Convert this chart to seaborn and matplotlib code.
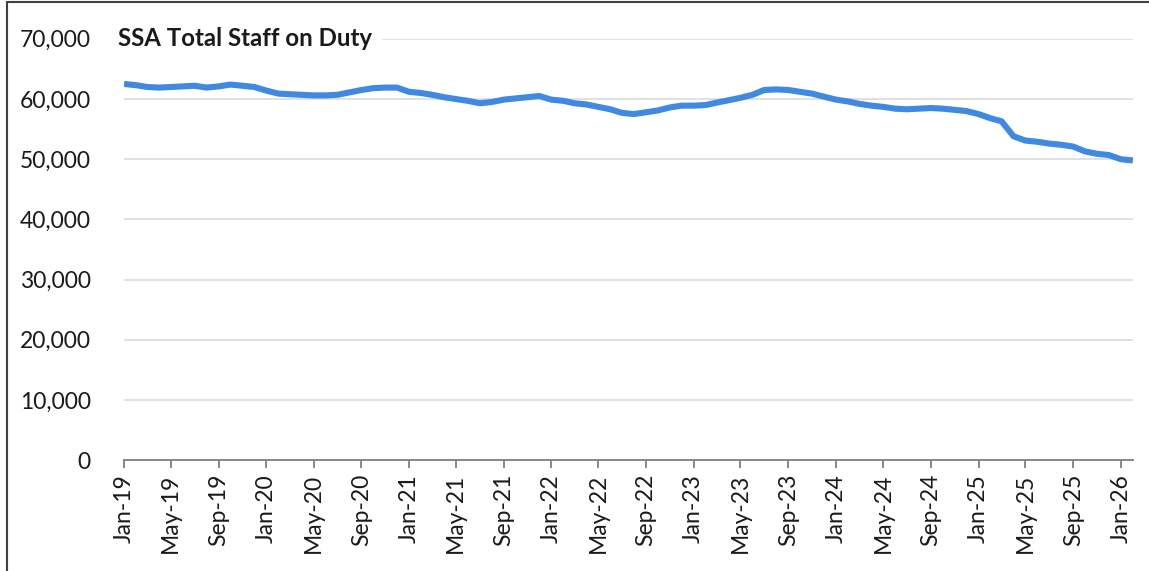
import pandas as pd
import seaborn as sns
import matplotlib.pyplot as plt
import matplotlib.dates as mdates
import matplotlib.ticker as mtick
from matplotlib.lines import Line2D

# monthly staff on duty, Jan-19 .. Feb-26
months = pd.date_range('2019-01-01', '2026-02-01', freq='MS')
staff = [62500, 62300, 62000, 61900, 62000, 62100, 62200, 61900, 62100, 62400, 62200, 62000,
         61400, 60900, 60800, 60700, 60600, 60600, 60700, 61100, 61500, 61800, 61900, 61900,
         61200, 61000, 60700, 60300, 60000, 59700, 59300, 59500, 59900, 60100, 60300, 60500,
         59900, 59700, 59300, 59100, 58700, 58300, 57700, 57500, 57800, 58100, 58600, 58900,
         58900, 59000, 59400, 59800, 60200, 60700, 61500, 61600, 61500, 61200, 60900, 60400,
         59900, 59600, 59200, 58900, 58700, 58400, 58300, 58400, 58500, 58400, 58200, 58000,
         57500, 56800, 56300, 53800, 53100, 52900, 52600, 52400, 52100, 51300, 50900, 50700,
         50000, 49800]
title = 'SSA Total Staff on Duty'

df = pd.DataFrame({'month': months, 'staff': staff})

sns.set_style('white')
plt.rcParams['font.family'] = ['Lato', 'DejaVu Sans']

fig = plt.figure(figsize=(11.49, 5.71), dpi=100)
ax = fig.add_axes([0.108, 0.194, 0.878, 0.738])

sns.lineplot(data=df, x='month', y='staff', ax=ax, color='#3f8ae0',
             linewidth=4.4, solid_capstyle='butt')

ax.set_ylim(0, 70000)
ax.set_xlim(months[0], months[-1])
ax.yaxis.set_major_locator(mtick.MultipleLocator(10000))
ax.yaxis.set_major_formatter(mtick.StrMethodFormatter('{x:,.0f}'))
ax.xaxis.set_major_locator(mdates.MonthLocator(bymonth=[1, 5, 9]))
ax.xaxis.set_major_formatter(mdates.DateFormatter('%b-%y'))

ax.grid(axis='y', color='#d9d9d9', linewidth=1.1)
ax.set_axisbelow(True)
for s in ['left', 'right', 'top']:
    ax.spines[s].set_visible(False)
ax.spines['bottom'].set_color('#7f7f7f')
ax.spines['bottom'].set_linewidth(1.3)

ax.tick_params(axis='y', length=0, pad=24, labelsize=16.5, labelcolor='#1a1a1a')
ax.tick_params(axis='x', direction='out', length=6, width=1.3, color='#7f7f7f',
               labelsize=16.5, labelrotation=90, pad=4, bottom=True, labelcolor='#1a1a1a')
ax.set_xlabel('')
ax.set_ylabel('')

ax.text(-0.006, 1.0, title, transform=ax.transAxes, ha='left', va='center',
        fontsize=17.3, fontweight='bold', color='#1a1a1a',
        bbox=dict(facecolor='white', edgecolor='none', pad=7))

# outer chart frame (left and top edges are visible in the crop)
for xs, ys in [([0.0061, 0.0061], [0, 0.9965]), ([0.0061, 1.0], [0.9965, 0.9965])]:
    fig.add_artist(Line2D(xs, ys, color='#404040', linewidth=1.5, transform=fig.transFigure))

fig.savefig('out.png', dpi=100)
